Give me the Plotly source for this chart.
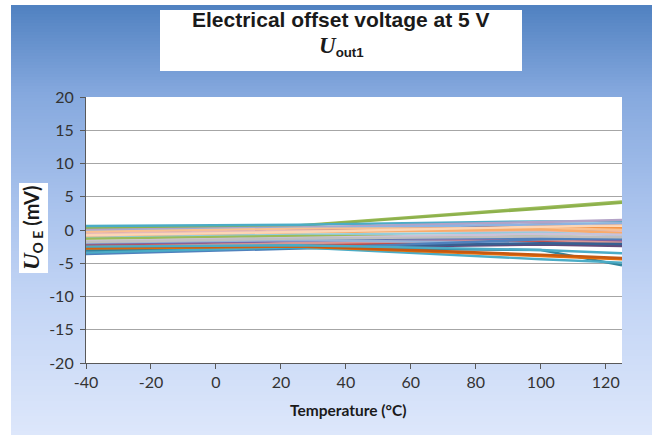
import plotly.graph_objects as go

# ---------------- data ----------------
temperatures = [-40, 25, 100, 125]

series_colors = [
    "#9BBB59", "#8DB14C", "#4BACC6", "#B3A2C7", "#953735", "#8DB3E2",
    "#F79646", "#FAC090", "#E6B9B8", "#F9AB6B", "#93CDDD", "#C3D69B",
    "#9BBB59", "#CCC1DA", "#4F81BD", "#8064A2", "#C0504D", "#D99694",
    "#C0504D", "#95B3D7", "#604A7B", "#376092", "#4F81BD", "#31859C",
    "#4BACC6", "#E46C0A", "#C65911", "#4BACC6", "#BFBFBF", "#FCD5B5",
]

series_values = [
    [0.3, 0.7, 3.4, 4.3],
    [0.2, 0.6, 3.2, 4.1],
    [0.6, 0.8, 1.3, 1.3],
    [0.0, 0.4, 1.2, 1.5],
    [-0.5, 0.0, 0.8, 0.9],
    [-0.2, 0.3, 0.9, 1.0],
    [-0.9, -0.3, 0.4, 0.3],
    [-0.3, 0.2, 0.3, 0.0],
    [-0.6, -0.1, -0.2, -0.3],
    [-1.0, -0.4, 0.1, -0.5],
    [-1.2, -0.7, -0.4, -0.8],
    [-1.5, -1.0, -0.8, -1.2],
    [-1.3, -0.9, -1.0, -1.8],
    [-1.7, -1.2, -0.6, -0.7],
    [-2.0, -1.4, -1.2, -1.5],
    [-2.2, -1.7, -1.5, -1.7],
    [-2.4, -2.1, -1.9, -2.0],
    [-2.6, -2.0, -1.6, -1.9],
    [-2.8, -2.3, -1.8, -2.3],
    [-1.9, -1.5, -2.0, -2.2],
    [-3.1, -2.7, -2.2, -2.4],
    [-3.4, -2.6, -2.0, -2.1],
    [-3.6, -2.8, -1.4, -1.2],
    [-3.0, -2.7, -3.0, -5.3],
    [-3.4, -2.6, -4.4, -4.9],
    [-2.8, -2.5, -3.9, -4.4],
    [-2.6, -2.4, -3.7, -4.2],
    [-2.5, -2.3, -3.0, -3.5],
    [-1.8, -1.3, -1.0, -1.1],
    [-0.8, -0.3, 0.5, 0.7],
]

x_ticks = [-40, -20, 0, 20, 40, 60, 80, 100, 120]
y_ticks = [-20, -15, -10, -5, 0, 5, 10, 15, 20]

title_line1 = "Electrical offset voltage at 5 V"
x_title = "Temperature (°C)"

# ---------------- layout geometry ----------------
W, H = 652, 435
L, R, T, B = 86, 622, 97, 363


def px(xp):
    return (xp - L) / (R - L)


def py(yp):
    return (B - yp) / (B - T)


fig = go.Figure()
for i in range(len(series_values)):
    fig.add_trace(go.Scatter(
        x=temperatures, y=series_values[i], mode="lines",
        line=dict(color=series_colors[i], width=2.4),
        showlegend=False, hoverinfo="skip",
    ))

shapes = []
# gradient background
stops = [(5, (80, 129, 193)), (95, (134, 169, 222)), (200, (167, 193, 236)),
         (300, (195, 213, 245)), (435, (221, 231, 251))]


def grad(y):
    for (y0, c0), (y1, c1) in zip(stops[:-1], stops[1:]):
        if y0 <= y <= y1:
            f = (y - y0) / (y1 - y0)
            return tuple(int(round(a + (b - a) * f)) for a, b in zip(c0, c1))
    return stops[-1][1]


step = 3
y = 5
while y < 435:
    y2 = min(y + step, 435)
    c = grad((y + y2) / 2)
    shapes.append(dict(type="rect", xref="paper", yref="paper",
                       x0=px(11), x1=px(652), y0=py(y2 + 0.5), y1=py(y),
                       fillcolor="rgb(%d,%d,%d)" % c, line=dict(width=0),
                       layer="below"))
    y = y2
# white plot area
shapes.append(dict(type="rect", xref="paper", yref="paper", x0=0, x1=1, y0=0, y1=1,
                   fillcolor="white", line=dict(width=0), layer="below"))
# title box
shapes.append(dict(type="rect", xref="paper", yref="paper", x0=px(160), x1=px(522),
                   y0=py(71), y1=py(10), fillcolor="white", line=dict(width=0), layer="below"))
# y title box
shapes.append(dict(type="rect", xref="paper", yref="paper", x0=px(19), x1=px(48),
                   y0=py(273), y1=py(183), fillcolor="white", line=dict(width=0), layer="below"))

annotations = [
    dict(text="<b>" + title_line1 + "</b>", xref="paper", yref="paper",
         x=px(341), y=py(19), xanchor="center", yanchor="middle", showarrow=False,
         font=dict(family="Liberation Sans", size=21, color="#1a1a1a")),
    dict(text="<span style='font-family:Liberation Serif;font-size:23px'><b><i>U</i></b></span>"
              "<sub><b>out1</b></sub>",
         xref="paper", yref="paper", x=px(341), y=py(46), xanchor="center", yanchor="middle",
         showarrow=False, font=dict(family="Liberation Sans", size=19, color="#1a1a1a")),
    dict(text="<span style='font-family:Liberation Serif;font-size:23px'><b><i>U</i></b></span>"
              "<sub><b>O E</b></sub><b> (mV)</b>",
         xref="paper", yref="paper", x=px(33), y=py(228), xanchor="center", yanchor="middle",
         textangle=-90, showarrow=False, font=dict(family="Lato", size=20, color="#1a1a1a")),
    dict(text="<b>" + x_title + "</b>", xref="paper", yref="paper", x=px(348), y=py(410),
         xanchor="center", yanchor="middle", showarrow=False,
         font=dict(family="Lato", size=15.5, color="#1a1a1a")),
]

fig.update_layout(
    width=W, height=H,
    margin=dict(l=L, r=W - R, t=T, b=H - B, pad=0),
    paper_bgcolor="white", plot_bgcolor="white",
    shapes=shapes, annotations=annotations,
    xaxis=dict(range=[-40, 125], tickmode="array", tickvals=x_ticks,
               ticktext=[str(v) for v in x_ticks], showgrid=False, zeroline=False,
               showline=True, linecolor="#595959", linewidth=1.2,
               ticks="outside", ticklen=5, tickcolor="#595959",
               tickfont=dict(family="Lato", size=16, color="#333333")),
    yaxis=dict(range=[-20, 20], tickmode="array", tickvals=y_ticks,
               ticktext=[str(v) for v in y_ticks], showgrid=True, gridcolor="#A6A6A6",
               gridwidth=1, zeroline=False, showline=True, linecolor="#595959",
               linewidth=1.2, ticks="outside", ticklen=5, tickcolor="#595959",
               ticklabelstandoff=3,
               tickfont=dict(family="Lato", size=16, color="#333333")),
)

fig.write_html("out.html")
